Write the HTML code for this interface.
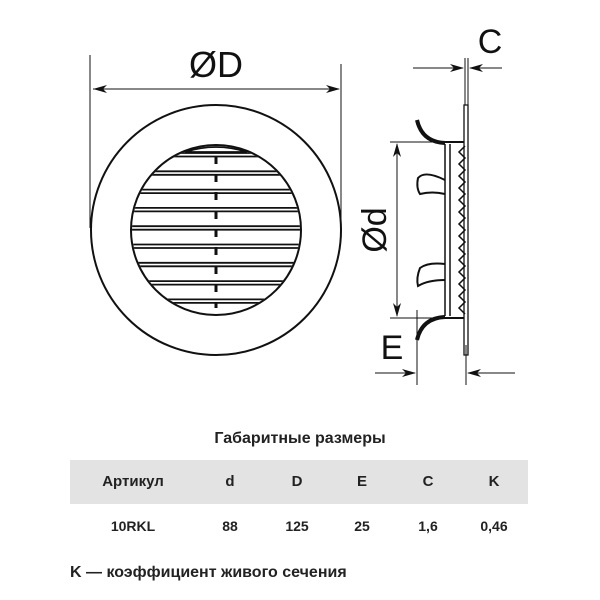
<!DOCTYPE html>
<html><head><meta charset="utf-8"><style>
html,body{margin:0;padding:0;background:#fff;}
.w{position:relative;width:600px;height:600px;overflow:hidden;font-family:"Liberation Sans",sans-serif;color:#222;}
.t{position:absolute;font-weight:bold;font-size:15px;text-align:center;}
</style></head><body><div class="w">
<svg width="600" height="600" style="position:absolute;left:0;top:0" xmlns="http://www.w3.org/2000/svg">
<defs><clipPath id="ic"><circle cx="216" cy="230" r="84"/></clipPath>
<marker id="a" markerWidth="14" markerHeight="8" refX="13" refY="4" orient="auto" markerUnits="userSpaceOnUse"><path d="M0,0 L14,4 L0,8 L4,4 Z" fill="#111"/></marker></defs>
<g stroke="#111" fill="none">
<circle cx="216" cy="230" r="125" stroke-width="2"/>
<circle cx="216" cy="230" r="85" stroke-width="2"/>
<path d="M185,152 Q216,142 247,152 Z" stroke-width="1.8"/>
<g clip-path="url(#ic)" stroke-width="1.8">
<g id="l">
<line x1="120" y1="153" x2="320" y2="153"/><line x1="120" y1="156.5" x2="320" y2="156.5"/>
</g>
<use href="#l" y="18.3"/><use href="#l" y="36.6"/><use href="#l" y="54.9"/><use href="#l" y="73.2"/><use href="#l" y="91.5"/><use href="#l" y="109.8"/><use href="#l" y="128.1"/><use href="#l" y="146.4"/>
</g>
<g stroke-width="3">
<line x1="216" y1="156" x2="216" y2="164"/><line x1="216" y1="174" x2="216" y2="182"/><line x1="216" y1="192" x2="216" y2="200"/><line x1="216" y1="211" x2="216" y2="219"/><line x1="216" y1="229" x2="216" y2="237"/><line x1="216" y1="247" x2="216" y2="255"/><line x1="216" y1="266" x2="216" y2="274"/><line x1="216" y1="284" x2="216" y2="292"/><line x1="216" y1="302" x2="216" y2="308"/>
</g>
<g stroke-width="1">
<line x1="90" y1="55" x2="90" y2="228"/><line x1="341" y1="64" x2="341" y2="228"/>
<line x1="116" y1="89" x2="94" y2="89" marker-end="url(#a)"/><line x1="310" y1="89" x2="339" y2="89" marker-end="url(#a)"/>
<line x1="93" y1="89" x2="339" y2="89"/>
</g>
<g stroke-width="1">
<line x1="465" y1="58" x2="465" y2="105"/><line x1="468" y1="58" x2="468" y2="105"/>
<line x1="413" y1="68" x2="463" y2="68" marker-end="url(#a)"/><line x1="502" y1="68" x2="470" y2="68" marker-end="url(#a)"/>
<line x1="390" y1="142" x2="440" y2="142"/><line x1="390" y1="318" x2="440" y2="318"/>
<line x1="397" y1="170" x2="397" y2="144" marker-end="url(#a)"/><line x1="397" y1="290" x2="397" y2="316" marker-end="url(#a)"/><line x1="397" y1="150" x2="397" y2="310"/>
<line x1="417" y1="310" x2="417" y2="385"/><line x1="466" y1="345" x2="466" y2="385"/>
<line x1="375" y1="373" x2="415" y2="373" marker-end="url(#a)"/><line x1="515" y1="373" x2="468" y2="373" marker-end="url(#a)"/>
</g>
<path d="M464,105 L468,105 L468,355 L464,355 Z" stroke-width="1.3"/>
<path d="M464,142 L440,142 M464,318 L440,318" stroke-width="2"/>
<path d="M417,120 Q422,142 445,143" stroke-width="4"/>
<path d="M417,340 Q422,318 445,317" stroke-width="4"/>
<path d="M445,144 L445,316 M450,144 L450,316" stroke-width="1.5"/>
<path d="M465,146 L459,152 L465,158 L459,164 L465,170 L459,176 L465,182 L459,188 L465,194 L459,200 L465,206 L459,212 L465,218 L459,224 L465,230 L459,236 L465,242 L459,248 L465,254 L459,260 L465,266 L459,272 L465,278 L459,284 L465,290 L459,296 L465,302 L459,308 L465,314" stroke-width="1.5"/>
<path d="M445,180 Q425,170 418,178 Q416,188 420,194 Q432,191 445,194" stroke-width="2"/>
<path d="M445,264 Q428,262 420,268 Q416,278 418,286 Q428,280 445,280" stroke-width="2"/>
</g>
<rect x="70" y="460" width="458" height="44" fill="#e3e3e3"/>
<text x="216" y="77" font-size="36" text-anchor="middle" fill="#111" font-family="Liberation Sans">ØD</text>
<text x="490" y="53" font-size="34" text-anchor="middle" fill="#111" font-family="Liberation Sans">C</text>
<text x="392" y="359" font-size="34" text-anchor="middle" fill="#111" font-family="Liberation Sans">E</text>
<text transform="translate(386,230) rotate(-90)" font-size="34" text-anchor="middle" fill="#111" font-family="Liberation Sans">Ød</text>
</svg>
<div class="t" style="left:150px;top:430px;width:300px;font-size:16px">Габаритные размеры</div>
<div class="t" style="left:83px;top:473px;width:100px">Артикул</div>
<div class="t" style="left:200px;top:473px;width:60px">d</div>
<div class="t" style="left:267px;top:473px;width:60px">D</div>
<div class="t" style="left:332px;top:473px;width:60px">E</div>
<div class="t" style="left:398px;top:473px;width:60px">C</div>
<div class="t" style="left:464px;top:473px;width:60px">K</div>
<div class="t" style="left:83px;top:518px;width:100px;font-size:14px">10RKL</div>
<div class="t" style="left:200px;top:518px;width:60px;font-size:14px">88</div>
<div class="t" style="left:267px;top:518px;width:60px;font-size:14px">125</div>
<div class="t" style="left:332px;top:518px;width:60px;font-size:14px">25</div>
<div class="t" style="left:398px;top:518px;width:60px;font-size:14px">1,6</div>
<div class="t" style="left:464px;top:518px;width:60px;font-size:14px">0,46</div>
<div class="t" style="left:70px;top:564px;text-align:left;font-size:16px">K — коэффициент живого сечения</div>
</div></body></html>
